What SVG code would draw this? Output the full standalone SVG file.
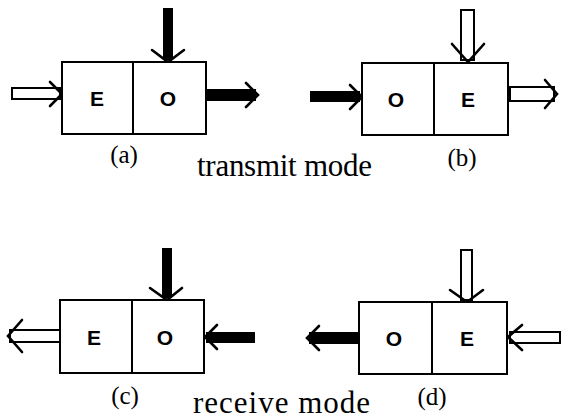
<svg xmlns="http://www.w3.org/2000/svg" width="561" height="419" viewBox="0 0 561 419">
<style>
.box{fill:#fff;stroke:#000;stroke-width:2}
.div{stroke:#000;stroke-width:2}
.lt{font-family:"Liberation Sans",Arial,sans-serif;font-weight:bold;font-size:21px;text-anchor:middle;fill:#000}
.lab{font-family:"Liberation Serif","Times New Roman",serif;font-size:25px;text-anchor:middle;fill:#000}
.mode{font-family:"Liberation Serif","Times New Roman",serif;font-size:31px;fill:#000}
.bar{fill:#000}
.hol{fill:#fff;stroke:#000;stroke-width:2}
.chev{fill:none;stroke:#000;stroke-width:2.6;stroke-linejoin:miter;stroke-linecap:round}
</style>
<rect width="561" height="419" fill="#fff"/>
<g id="connectors">
  <!-- (a) -->
  <rect class="hol" x="12" y="88" width="48" height="11"/>
  <path class="chev" d="M50,82 L62,94 L50,106"/>
  <rect class="bar" x="163" y="8" width="10" height="52"/>
  <path class="chev" d="M152,50 L168,62 L184,50"/>
  <rect class="bar" x="206" y="89" width="50" height="12"/>
  <path class="chev" d="M246,83 L258,95 L246,107"/>
  <!-- (b) -->
  <rect class="bar" x="310" y="91" width="50" height="11"/>
  <path class="chev" d="M350,85 L362,97 L350,109"/>
  <rect class="hol" x="461" y="10" width="13" height="50"/>
  <path class="chev" d="M452,44 L468,62 L484,44"/>
  <rect class="hol" x="510" y="87" width="44" height="14"/>
  <path class="chev" d="M545,80 L557,94 L545,108"/>
  <!-- (c) -->
  <rect class="bar" x="162" y="248" width="10" height="50"/>
  <path class="chev" d="M150,288 L167,300 L182,288"/>
  <rect class="hol" x="10" y="330" width="50" height="12"/>
  <path class="chev" d="M22,320 L8,336 L22,352"/>
  <rect class="bar" x="206" y="332" width="49" height="11"/>
  <path class="chev" d="M217,325 L205,337 L217,349"/>
  <!-- (d) -->
  <rect class="hol" x="461" y="250" width="11" height="50"/>
  <path class="chev" d="M450,290 L467,302 L483,290"/>
  <rect class="bar" x="309" y="332" width="50" height="12"/>
  <path class="chev" d="M319,326 L307,338 L319,350"/>
  <rect class="hol" x="510" y="332" width="50" height="11"/>
  <path class="chev" d="M522,325 L508,337 L522,350"/>
</g>
<g id="node-a">
  <rect class="box" x="62" y="62" width="144" height="72"/>
  <line class="div" x1="133" y1="62" x2="133" y2="134"/>
  <text class="lt" x="97" y="106">E</text>
  <text class="lt" x="168" y="106">O</text>
  <text class="lab" x="124" y="163">(a)</text>
</g>
<g id="node-b">
  <rect class="box" x="362" y="63" width="146" height="72"/>
  <line class="div" x1="434" y1="63" x2="434" y2="135"/>
  <text class="lt" x="396" y="107">O</text>
  <text class="lt" x="468" y="107">E</text>
  <text class="lab" x="462" y="166">(b)</text>
</g>
<g id="node-c">
  <rect class="box" x="60" y="300" width="144" height="73"/>
  <line class="div" x1="132" y1="300" x2="132" y2="373"/>
  <text class="lt" x="94" y="345">E</text>
  <text class="lt" x="165" y="345">O</text>
  <text class="lab" x="125" y="404">(c)</text>
</g>
<g id="node-d">
  <rect class="box" x="359" y="302" width="148" height="72"/>
  <line class="div" x1="432" y1="302" x2="432" y2="374"/>
  <text class="lt" x="394" y="346">O</text>
  <text class="lt" x="467" y="346">E</text>
  <text class="lab" x="432" y="405">(d)</text>
</g>
<text class="mode" x="197" y="176" textLength="175" lengthAdjust="spacing">transmit mode</text>
<text class="mode" x="193" y="413" textLength="177" lengthAdjust="spacing">receive mode</text>
</svg>
